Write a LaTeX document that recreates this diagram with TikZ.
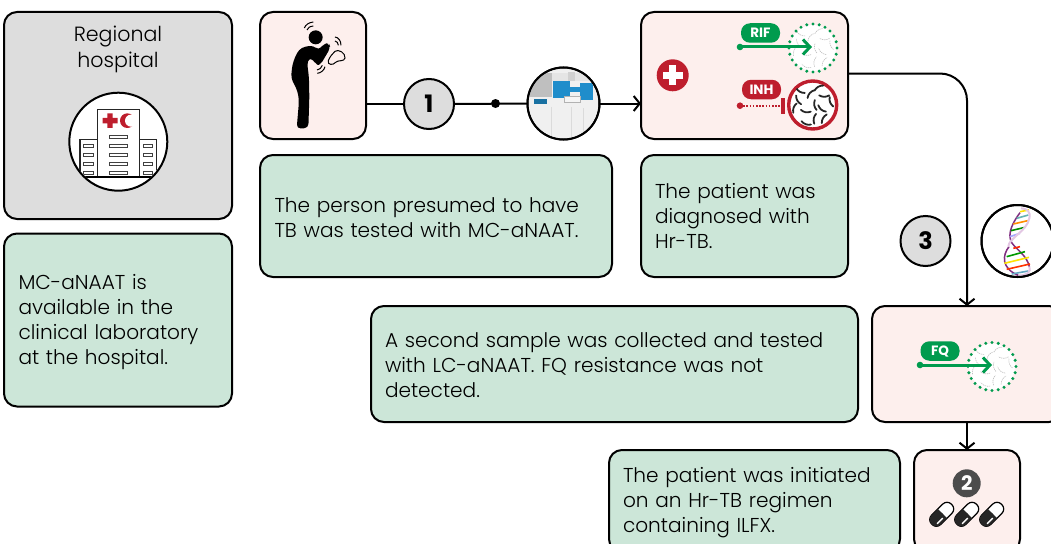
\documentclass[tikz,border=0pt]{standalone}
\usepackage{fontspec}
\setmainfont{Poppins}[UprightFont=* Light,BoldFont=* Bold]
\usetikzlibrary{arrows.meta,calc}
\definecolor{pinkbox}{HTML}{FDEFED}
\definecolor{greenbox}{HTML}{CCE6D8}
\definecolor{greybox}{HTML}{DDDDDD}
\definecolor{tbgreen}{HTML}{009B4E}
\definecolor{tbred}{HTML}{BE1E2D}
\definecolor{instblue}{HTML}{1F8DCB}
\tikzset{
 x=1pt,y=-1pt,
 box/.style={draw=black,line width=2pt,rounded corners=13pt,inner sep=0pt,outer sep=0pt},
 txt/.style={box,fill=greenbox,align=left,font=\fontsize{20.1}{25}\selectfont},
 pinkb/.style={box,fill=pinkbox},
 stepno/.style={circle,draw=black,line width=2pt,fill=greybox,minimum size=50pt,inner sep=0pt,outer sep=0pt,font=\fontsize{24}{24}\selectfont\bfseries},
 iconc/.style={circle,draw=black,line width=2pt,fill=white,minimum size=72pt,inner sep=0pt,outer sep=0pt},
 conn/.style={line width=2pt,draw=black},
 arr/.style={conn,-{Straight Barb[length=6pt,width=15pt,line width=2pt]}},
 pilltag/.style={rounded corners=9pt,inner sep=0pt,outer sep=0pt,text=white,font=\fontsize{13.5}{13.5}\selectfont\bfseries,minimum height=19.5pt,minimum width=39pt},
 garrow/.style={tbgreen,line width=3pt,-{Straight Barb[length=7pt,width=15pt,line width=3pt]}},
}
% bacterium circle surrounded by dots
\newcommand{\deadbug}[2]{%
 \begin{scope}[shift={(#1)}]
  \fill[white] (0,0) circle (23);
  \foreach \a/\r/\b in {20/10/40,80/14/100,140/9/10,200/15/60,260/11/130,320/15/0,0/3/80,110/19/20,170/18/110,230/19/30,290/18/150,350/19/70,50/18/120}{
   \draw[gray!50,line width=.6pt,dash pattern=on 1.3pt off .8pt] ($(\a:\r)+(\b:5)$) to[bend left=30] ($(\a:\r)+(\b+180:5)$);
  }
  \foreach \a in {0,15,...,345}{\fill[#2] (\a:24) circle (1.7);}
 \end{scope}}
\begin{document}
\begin{tikzpicture}
\useasboundingbox (0,0) rectangle (1051,543);
\clip (0,0) rectangle (1051,543);
\fill[white] (0,0) rectangle (1051,543);

% hospital
\node[box,fill=greybox,minimum width=228pt,minimum height=207pt] (hosp) at (118,115.5) {};
\node[align=center,font=\fontsize{20.6}{26}\selectfont,inner sep=0pt] (hosptitle) at (118,49) {Regional\\hospital};
\node[iconc,minimum size=98pt] (hospicon) at (118.3,141.7) {};
\begin{scope}
 \clip (hospicon.center) circle (48);
 \begin{scope}[shift={(50,90)},x=.3333pt,y=-.3333pt]
  \draw[line width=1.3pt,draw=black!85] (142,262) rectangle (268,58) (90,262) rectangle (142,148) (268,262) rectangle (320,148);
  \draw[line width=2pt] (85,262) -- (325,262);
  \foreach \yy in {141,168,195,222,249}{\draw[line width=.8pt,black!75,fill=white] (178,\yy-5) rectangle (232,\yy+5);}
  \foreach \yy in {168,195,222,249}{
   \draw[line width=.8pt,black!75,fill=white] (100,\yy-5) rectangle (129,\yy+5);
   \draw[line width=.8pt,black!75,fill=white] (280,\yy-5) rectangle (308,\yy+5);}
  \fill[tbred] (172,70) rectangle (188,114) (158,84) rectangle (203,100);
  \fill[tbred] (232,92) circle (22);
  \fill[white] (243,92) circle (18);
 \end{scope}
\end{scope}

\node[txt,minimum width=228pt,minimum height=173pt,text width=199pt] (availtxt) at (118,320) {\rule{0pt}{19.5pt}MC-aNAAT is\\available in the\\clinical laboratory\\at the hospital.};

% top row
\node[pinkb,minimum width=106pt,minimum height=127pt] (person) at (313,75.5) {};
\node[stepno] (c1) at (429,104) {1};
\coordinate (jn) at (495.5,103.5);
\node[iconc] (photo) at (563.5,103.5) {};
\node[pinkb,minimum width=207pt,minimum height=127pt] (rif) at (744.5,75.5) {};
\node[txt,minimum width=352pt,minimum height=122pt,text width=323pt] (t1) at (436,216) {\rule{0pt}{17.5pt}The person presumed to have\\TB was tested with MC-aNAAT.};
\node[txt,minimum width=207pt,minimum height=122pt,text width=179pt] (t2) at (744.5,216) {\rule{0pt}{15pt}The patient was\\diagnosed with\\Hr-TB.};

% lower rows
\node[stepno] (c3) at (925.5,241) {3};
\node[iconc] (dna) at (1017.5,241) {};
\node[pinkb,minimum width=190pt,minimum height=116pt] (fq) at (967,364) {};
\node[txt,minimum width=487pt,minimum height=116pt,text width=459pt] (t3) at (614.5,364) {\rule{0pt}{17.5pt}A second sample was collected and tested\\with LC-aNAAT. FQ resistance was not\\detected.};
\node[txt,minimum width=291pt,minimum height=102pt,text width=263pt] (t4) at (754.5,501) {\rule{0pt}{19pt}The patient was initiated\\on an Hr-TB regimen\\containing ILFX.};
\node[pinkb,minimum width=106pt,minimum height=102pt] (pillbox) at (967,501) {};

% connectors
\draw[conn] (c1 -| person.east) -- (c1.west);
\draw[conn] (c1.east) -- (photo.west);
\fill[black] (jn) circle (4.5);
\draw[arr] (photo.east) -- (photo -| rif.west);
\draw[arr,rounded corners=27pt] ([yshift=2pt]rif.east) -| (fq.north);
\draw[arr] (fq.south) -- (pillbox.north);

% person figure
\begin{scope}[shift={(285,18)},x=.3333pt,y=-.3333pt]
 \fill[black] (92,58) circle (21);
 \fill[black,rounded corners=4pt] (50,88) -- (85,82) -- (100,97) -- (118,76) -- (133,76) -- (136,90) -- (106,141) -- (94,141) -- (78,118) -- (66,130) -- (72,180) -- (73,240) -- (70,330) -- (35,332) -- (42,250) -- (38,220) -- (18,180) -- (22,140) -- (35,105) -- cycle;
 \draw[line width=1pt] (130,128) .. controls (135,115) and (142,108) .. (150,100) .. controls (160,92) and (182,105) .. (180,120) .. controls (178,132) and (160,125) .. (152,133) .. controls (145,142) and (126,142) .. (130,128);
 \draw[line width=1pt] (58,30) .. controls (62,20) and (72,13) .. (85,12);
 \draw[line width=1pt] (66,36) .. controls (68,30) and (74,25) .. (85,24);
 \draw[line width=1pt] (150,57) .. controls (160,58) and (168,68) .. (168,82);
 \draw[line width=1pt] (150,69) .. controls (156,70) and (160,75) .. (160,82);
 \draw[line width=1pt] (97,166) .. controls (108,165) and (118,156) .. (120,146);
 \draw[line width=1pt] (96,156) .. controls (103,155) and (110,150) .. (112,142);
\end{scope}

% instrument photograph
\begin{scope}
 \clip (photo.center) circle (35);
 \fill[black!6] (photo.center) circle (35);
 \begin{scope}[shift={(525,65)},x=.3333pt,y=-.3333pt]
  \fill[black!25] (5,25) rectangle (80,95);
  \fill[black!10] (80,25) rectangle (210,48);
  \fill[black!18] (130,22) rectangle (150,48);
  \fill[instblue] (85,48) rectangle (135,100);
  \fill[instblue] (135,65) rectangle (165,80);
  \fill[instblue] (165,55) rectangle (205,105);
  \fill[instblue!80!black] (28,102) rectangle (65,118);
  \fill[black!4] (118,93) rectangle (166,113);
  \draw[black!30,line width=.5pt] (118,93) rectangle (166,113);
  \draw[black!14,line width=.6pt] (140,125) -- (140,225) (175,130) -- (175,225) (80,125) -- (80,225);
 \end{scope}
\end{scope}
\node[circle,draw=black,line width=2pt,minimum size=72pt,inner sep=0pt] (photoring) at (photo.center) {};

% plus sign
\node[circle,fill=tbred,minimum size=32pt,inner sep=0pt] (plus) at (672.7,75.3) {};
\fill[white] ($(plus)+(-10,-3.5)$) rectangle ($(plus)+(10,3.5)$);
\fill[white] ($(plus)+(-3.5,-10)$) rectangle ($(plus)+(3.5,10)$);

% RIF
\deadbug{813,48}{tbgreen}
\node[pilltag,fill=tbgreen] (riftag) at (760.5,33) {RIF};
\coordinate (rifs) at (740,47);
\coordinate (rife) at (812,47);
\fill[tbgreen] (rifs) circle (3.3);
\draw[garrow] (rifs) -- (rife);

% INH
\node[circle,draw=tbred,line width=3.4pt,fill=white,minimum size=48pt,inner sep=0pt] (inhc) at (812.7,105) {};
\begin{scope}
 \clip (inhc.center) circle (23);
 \foreach \a/\r/\b in {20/10/40,80/14/100,140/9/10,200/15/60,260/11/130,320/15/0,0/3/80,110/19/20,170/18/110,230/19/30,290/18/150,350/19/70,50/18/120}{
  \draw[black!85,line width=1.8pt,line cap=round] ($(inhc.center)+(\a:\r)+(\b:5)$) to[bend left=30] ($(inhc.center)+(\a:\r)+(\b+180:5)$);
 }
\end{scope}
\node[pilltag,fill=tbred] (inhtag) at (761.5,89.5) {INH};
\coordinate (inhs) at (740,105.7);
\coordinate (inhe) at (780,105.7);
\fill[tbred] (inhs) circle (3.3);
\draw[tbred,line width=1.8pt,dash pattern=on 1.5pt off 1.7pt] (inhs) -- (inhe);
\fill[tbred] (781,97.5) rectangle (785,114);

% FQ
\deadbug{992,366.5}{tbgreen}
\node[pilltag,fill=tbgreen] (fqtag) at (940,351) {FQ};
\coordinate (fqs) at (920,365);
\coordinate (fqe) at (992,365);
\fill[tbgreen] (fqs) circle (3.3);
\draw[garrow] (fqs) -- (fqe);

% DNA
\begin{scope}
 \clip (dna.center) circle (35);
 \begin{scope}[shift={(985,200)},x=.3333pt,y=-.3333pt]
  \draw[line width=1.5pt,violet!65!gray] (105,38) .. controls (85,65) and (65,100) .. (80,128) .. controls (95,150) and (125,165) .. (133,200);
  \draw[line width=1.5pt,violet!65!gray] (72,140) .. controls (52,165) and (48,205) .. (100,226);
  \foreach \xa/\ya/\xb/\yb/\cc in {
    105/35/132/30/yellow!80!orange,
    95/55/130/45/teal!60!white,
    85/72/128/62/orange!90!yellow,
    78/92/120/82/green!55!black,
    75/110/105/100/blue!35!white,
    85/145/105/140/red!70!orange,
    65/170/120/155/green!60!black,
    58/190/132/172/yellow!85!orange,
    65/208/135/192/red!60!orange,
    80/222/130/213/cyan!50!gray}{
   \draw[\cc,line width=1.6pt] (\xa,\ya) -- (\xb,\yb);
  }
  \draw[line width=2pt,violet!22!white] (108,25) .. controls (125,25) and (138,35) .. (133,55) .. controls (125,95) and (70,115) .. (70,140);
  \draw[line width=2pt,violet!22!white] (133,200) .. controls (140,215) and (125,228) .. (100,226);
 \end{scope}
\end{scope}
\node[circle,draw=black,line width=2pt,minimum size=72pt,inner sep=0pt] (dnaring) at (dna.center) {};

% pills
\node[circle,fill=black!70,minimum size=28pt,inner sep=0pt,text=white,font=\fontsize{20}{20}\selectfont\bfseries] (two) at (966.7,483.3) {2};
\foreach \cx in {941.7,966.7,991.7}{
 \begin{scope}[shift={(\cx,514.3)},rotate=45]
  \draw[line width=1.2pt,fill=white,rounded corners=6pt] (-14,-6.5) rectangle (14,6.5);
  \fill[black!85,rounded corners=6pt] (-14,-6.5) rectangle (1,6.5);
  \fill[black!85] (-4,-6.5) rectangle (1,6.5);
  \fill[white] (-10,2.8) -- (-2,2.8) -- (-2,4.2) -- (-10,4.2) -- cycle;
 \end{scope}
}
\end{tikzpicture}
\end{document}
